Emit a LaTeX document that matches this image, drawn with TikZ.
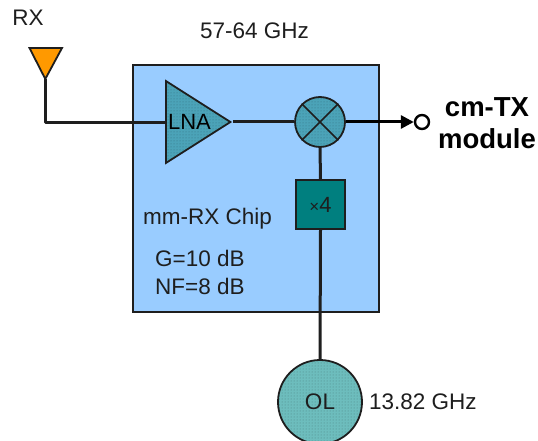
\documentclass[tikz,border=0pt]{standalone}
\usepackage{fontspec}
\setmainfont{Liberation Sans}
\usetikzlibrary{shapes.geometric,shapes.misc,patterns,arrows.meta}
\definecolor{chip}{HTML}{99CCFF}
\definecolor{teal1}{HTML}{4BA3B8}
\definecolor{teal2}{HTML}{007F7F}
\definecolor{teal3}{HTML}{6DBDBD}
\definecolor{orng}{HTML}{FF9900}
\definecolor{ink}{HTML}{1E1E1E}
\tikzset{
  wire/.style={draw=ink,line width=3pt},
  outl/.style={draw=ink,line width=1.8pt},
  lbl/.style={inner sep=0pt,text=ink,font=\fontsize{22.5}{26}\selectfont},
  boldlbl/.style={inner sep=0pt,text=black,align=center,font=\fontsize{27.5}{32}\selectfont\bfseries},
  dotted fill/.style={preaction={fill=#1},pattern=dots,pattern color=#1!70!black},
}
\begin{document}
\begin{tikzpicture}[x=1pt,y=-1pt]
\useasboundingbox (0,0) rectangle (538,441);
\clip (0,0) rectangle (538,441);
\fill[white] (0,0) rectangle (538,441);
% chip
\node[outl,fill=chip,minimum width=246pt,minimum height=247pt,inner sep=0pt,anchor=north west] (chip) at (132,64) {};
% nodes
\node[outl,shape=isosceles triangle,isosceles triangle stretches,minimum width=82pt,minimum height=64.5pt,inner sep=0pt,anchor=lower side,dotted fill=teal1] (lnashape) at (165,122) {};
\node[lbl,text=black,font=\fontsize{22}{26}\selectfont] (lna) at (189.5,122) {LNA};
\node[outl,circle,minimum size=50pt,inner sep=0pt,dotted fill=teal1] (mix) at (320,122) {};
\draw[line width=1.5pt,draw=ink] (mix.north west) -- (mix.south east) (mix.north east) -- (mix.south west);
\node[outl,fill=teal2,minimum width=49pt,minimum height=49pt,inner sep=0pt,text=ink] (mult) at (320.5,204.5) {\fontsize{17}{20}\selectfont ×\fontsize{22}{26}\selectfont 4};
\node[outl,circle,minimum size=84pt,inner sep=0pt,dotted fill=teal3] (ol) at (320,402) {};
\node[lbl] (oltext) at (320,402) {OL};
\node[draw=black,line width=2.4pt,circle,minimum size=14pt,inner sep=0pt,fill=white] (port) at (422,122) {};
\coordinate (ant1) at (29.5,48);
\coordinate (ant2) at (62,48);
\coordinate (anttip) at (45.3,79);
\coordinate (corner) at (45.3,122.5);
\filldraw[outl,line join=miter,fill=orng] (ant1) -- (ant2) -- (anttip) -- cycle;
% connectors
\draw[wire,line join=round] (anttip) -- (corner) -- (lnashape.lower side |- corner);
\draw[wire] (lnashape.apex) -- (mix.west);
\draw[wire] (mix.south) -- (mult.north);
\draw[wire] (mult.south) -- (ol.north);
\draw[draw=black,line width=3pt,-{Triangle[length=13pt,width=13pt]}] (mix.east) -- (port.west);
% labels
\node[lbl] (rx) at (28,18) {RX};
\node[lbl] (freq) at (254.5,31) {57-64 GHz};
\node[lbl,anchor=west] (name) at (143,219) {mm-RX Chip};
\node[lbl,anchor=west] (gain) at (155,258) {G=10 dB};
\node[lbl,anchor=west] (nf) at (155,286) {NF=8 dB};
\node[boldlbl] (mod) at (487,123) {cm-TX\\module};
\node[lbl,anchor=west] (olf) at (369,402) {13.82 GHz};
\end{tikzpicture}
\end{document}
